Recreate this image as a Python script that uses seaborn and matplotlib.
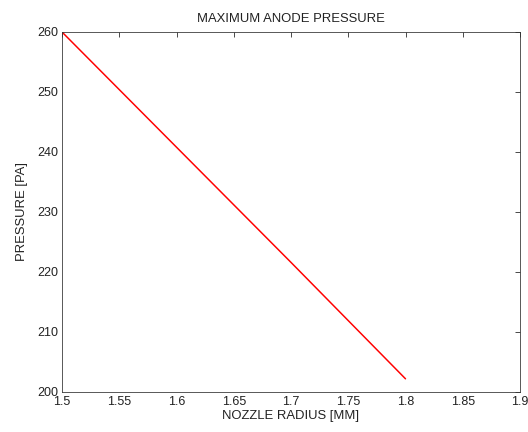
import matplotlib
matplotlib.use("Agg")
import matplotlib.pyplot as plt
import seaborn as sns
import pandas as pd

radius = [1.50, 1.55, 1.60, 1.65, 1.70, 1.75, 1.80]
pressure = [260.0, 250.4, 240.8, 231.2, 221.6, 211.9, 202.2]
xticks = [1.5, 1.55, 1.6, 1.65, 1.7, 1.75, 1.8, 1.85, 1.9]
yticks = [200, 210, 220, 230, 240, 250, 260]

sns.set_style("white")
plt.rcParams['font.family'] = ['Liberation Sans', 'DejaVu Sans']

df = pd.DataFrame({"r": radius, "p": pressure})
fig = plt.figure(figsize=(528/72, 432/72), dpi=72)
ax = fig.add_axes([62/528, 1-392/432, (520-62)/528, (392-32)/432])
sns.lineplot(data=df, x="r", y="p", ax=ax, color="#ff0000", linewidth=1.5)
ax.set_xlim(1.5, 1.9)
ax.set_ylim(200, 260)
ax.set_xticks(xticks)
ax.set_xticklabels([f"{t:g}" for t in xticks])
ax.set_yticks(yticks)
ax.tick_params(direction="in", top=True, right=True, length=5, width=0.8,
               labelsize=12.5, colors="#222222")
ax.tick_params(axis="x", pad=4)
ax.tick_params(axis="y", pad=4)
for s in ax.spines.values():
    s.set_visible(True)
    s.set_color("#333333")
    s.set_linewidth(0.8)
ax.set_xlabel("NOZZLE RADIUS [MM]", fontsize=13, labelpad=2, color="#222222")
ax.set_ylabel("PRESSURE [PA]", fontsize=13, labelpad=9, color="#222222")
ax.set_title("MAXIMUM ANODE PRESSURE", fontsize=13, pad=10, color="#222222")
fig.savefig("out.png", dpi=72)
